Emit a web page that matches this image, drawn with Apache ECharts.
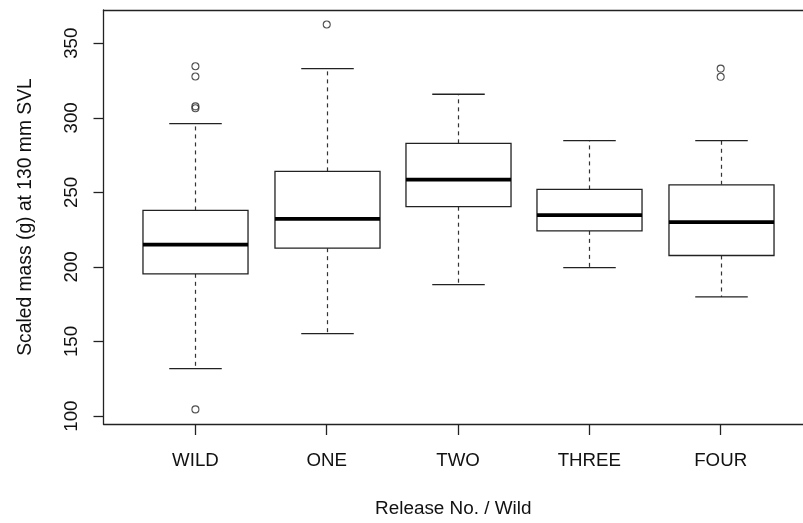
<!DOCTYPE html>
<html>
<head>
<meta charset="utf-8">
<script src="https://cdn.jsdelivr.net/npm/echarts@6/dist/echarts.min.js"></script>
<style>
  html, body { margin: 0; padding: 0; background: #fff; }
  #chart { width: 803px; height: 523px; }
</style>
</head>
<body>
<div id="chart"></div>
<script>
// Groups along the x axis
const categories = ['WILD', 'ONE', 'TWO', 'THREE', 'FOUR'];

// Five-number summaries per group (scaled mass, g)
const whiskerLow  = [131.8, 155.3, 188.2, 199.6, 179.9];
const quartile1   = [195.4, 212.6, 240.4, 224.2, 207.7];
const median      = [215.0, 232.3, 258.5, 234.8, 230.1];
const quartile3   = [237.9, 264.1, 282.9, 252.0, 255.1];
const whiskerHigh = [296.1, 333.0, 315.8, 284.7, 284.7];

// Outlying points: [group index, value]
const outlierGroup = [0, 0, 0, 0, 0, 1, 4, 4];
const outlierValue = [334.6, 327.7, 307.7, 306.4, 104.5, 362.6, 333.0, 327.5];

// Axis tick positions
const yTicks = [100, 150, 200, 250, 300, 350];
const xTicks = [1, 2, 3, 4, 5];

const FONT = '"Liberation Sans", Arial, sans-serif';
const TEXT = '#111';
const LINE = '#222';

const boxData = categories.map((c, i) =>
  [i + 1, whiskerLow[i], quartile1[i], median[i], quartile3[i], whiskerHigh[i]]);
const outlierData = outlierValue.map((v, k) => [outlierGroup[k] + 1, v]);

function renderBox(params, api) {
  const x = api.value(0);
  const pLow = api.coord([x, api.value(1)]);
  const pQ1 = api.coord([x, api.value(2)]);
  const pMed = api.coord([x, api.value(3)]);
  const pQ3 = api.coord([x, api.value(4)]);
  const pHigh = api.coord([x, api.value(5)]);
  const halfBox = api.size([0.4, 0])[0];
  const halfCap = api.size([0.2, 0])[0];
  const cx = Math.round(pMed[0]) + 0.5;
  const dashed = { stroke: '#333', lineWidth: 1.2, lineDash: [4, 4] };
  const solid = { stroke: LINE, lineWidth: 1.3 };
  return {
    type: 'group',
    children: [
      { type: 'line', shape: { x1: cx, y1: pQ3[1], x2: cx, y2: pHigh[1] }, style: dashed },
      { type: 'line', shape: { x1: cx, y1: pQ1[1], x2: cx, y2: pLow[1] }, style: dashed },
      { type: 'line', shape: { x1: cx - halfCap, y1: pHigh[1], x2: cx + halfCap, y2: pHigh[1] }, style: solid },
      { type: 'line', shape: { x1: cx - halfCap, y1: pLow[1], x2: cx + halfCap, y2: pLow[1] }, style: solid },
      { type: 'rect', shape: { x: cx - halfBox, y: pQ3[1], width: 2 * halfBox, height: pQ1[1] - pQ3[1] },
        style: { fill: '#fff', stroke: LINE, lineWidth: 1.3 } },
      { type: 'line', shape: { x1: cx - halfBox, y1: pMed[1], x2: cx + halfBox, y2: pMed[1] },
        style: { stroke: '#000', lineWidth: 3.8 } }
    ]
  };
}

const chart = echarts.init(document.getElementById('chart'), null, { renderer: 'canvas' });
chart.setOption({
  animation: false,
  backgroundColor: '#fff',
  grid: {
    left: 103.5, top: 10, right: 0, height: 414.7, show: false
  },
  xAxis: [{
    type: 'value', min: 0.3, max: 5.627,
    name: 'Release No. / Wild', nameLocation: 'middle', nameGap: 75,
    nameTextStyle: { fontFamily: FONT, fontSize: 18.9, color: TEXT, padding: [0, 0, 0, 0] },
    axisLine: { show: true, lineStyle: { color: LINE, width: 1.3 } },
    axisTick: { show: true, customValues: xTicks, length: 11, lineStyle: { color: LINE, width: 1.3 } },
    axisLabel: {
      customValues: xTicks, margin: 27,
      fontFamily: FONT, fontSize: 18.7, color: TEXT,
      formatter: v => categories[Math.round(v) - 1] || ''
    },
    splitLine: { show: false }
  }, {
    // top edge of the plot frame
    type: 'value', position: 'top', min: 0.3, max: 5.627,
    axisLine: { show: true, onZero: false, lineStyle: { color: LINE, width: 1.3 } },
    axisTick: { show: false }, axisLabel: { show: false }, splitLine: { show: false }
  }],
  yAxis: {
    type: 'value', min: 94.7, max: 372.3,
    name: 'Scaled mass (g) at 130 mm SVL', nameLocation: 'middle', nameGap: 68, nameRotate: 90,
    nameTextStyle: { fontFamily: FONT, fontSize: 19.3, color: TEXT },
    axisLine: { show: true, lineStyle: { color: LINE, width: 1.3 } },
    axisTick: { show: true, customValues: yTicks, length: 10, lineStyle: { color: LINE, width: 1.3 } },
    axisLabel: {
      customValues: yTicks, rotate: 90, margin: 22,
      fontFamily: FONT, fontSize: 18.7, color: TEXT
    },
    splitLine: { show: false }
  },
  series: [
    {
      type: 'custom',
      data: boxData,
      encode: { x: 0, y: [1, 2, 3, 4, 5] },
      renderItem: renderBox,
      clip: false
    },
    {
      type: 'scatter',
      data: outlierData,
      symbol: 'circle',
      symbolSize: 7,
      itemStyle: { color: 'transparent', borderColor: LINE, borderWidth: 1.1 }
    }
  ]
});
</script>
</body>
</html>
